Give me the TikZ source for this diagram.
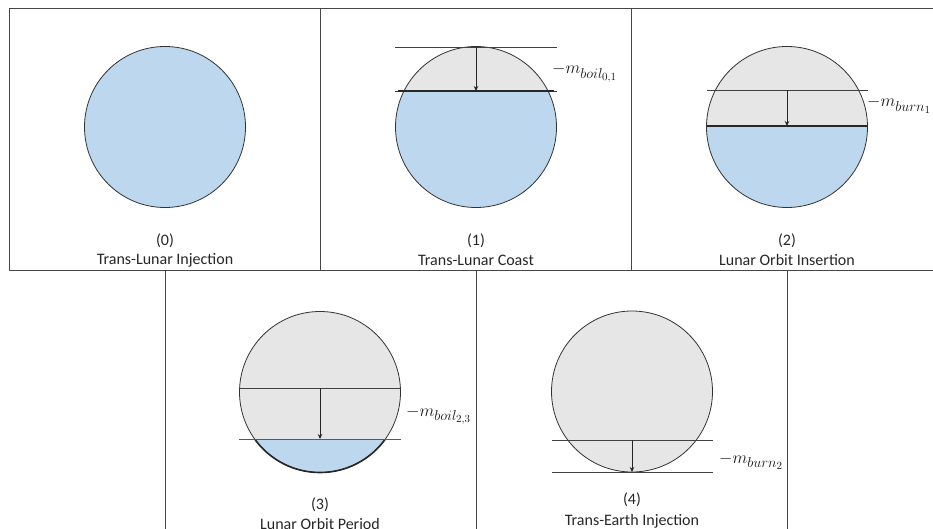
\documentclass[tikz,border=0pt]{standalone}
\usepackage{fontspec}
\setmainfont{Carlito}
\usetikzlibrary{arrows.meta}
\DeclareMathSizes{18}{18}{13.5}{10.5}
\definecolor{liquid}{RGB}{189,215,238}
\definecolor{vapour}{RGB}{231,230,230}
\definecolor{frame}{RGB}{70,70,70}
\tikzset{
  tank/.style={draw=black!80, line width=0.8pt},
  panelline/.style={draw=frame, line width=1pt},
  gauge/.style={draw=black!75, line width=0.8pt},
  level/.style={draw=black!85, line width=1.3pt},
  drop/.style={-{Stealth[length=5pt,width=4.5pt]}, line width=0.9pt, black!85},
  caption/.style={font=\fontsize{16}{19}\selectfont, text=black!85},
  mass/.style={font=\fontsize{18}{21}\selectfont, anchor=base west, inner sep=0pt, text=black!90}
}
\begin{document}
\begin{tikzpicture}[x=1pt, y=-1pt]
\useasboundingbox (0,0) rectangle (933,529);
\def\R{80.5}

% panel frames
\draw[panelline] (9,9) -- (933,9);
\draw[panelline] (9,9) -- (9,270);
\draw[panelline] (9,270) -- (933,270);
\draw[panelline] (320,9) -- (320,270);
\draw[panelline] (631,9) -- (631,270);
\draw[panelline] (165,270) -- (165,529);
\draw[panelline] (476,270) -- (476,529);
\draw[panelline] (787,270) -- (787,529);

% (0) full tank
\coordinate (c0) at (165,127);
\fill[liquid] (c0) circle (\R);
\draw[tank] (c0) circle (\R);
\node[caption] (n0) at (165,241) {(0)};
\node[caption] (t0) at (165,260) {Trans-Lunar Injection};

% (1) boil-off during coast
\coordinate (c1) at (476,127);
\fill[vapour] (c1) circle (\R);
\begin{scope}
  \clip (c1) circle (\R);
  \fill[liquid] (390,91) rectangle (560,215);
\end{scope}
\draw[tank] (c1) circle (\R);
\coordinate (a1) at (395,47);  \coordinate (b1) at (557,47);
\coordinate (a1l) at (395,91); \coordinate (b1l) at (557,91);
\draw[gauge] (a1) -- (b1);
\draw[gauge] (a1l) -- (b1l);
\draw[level] (476,91) ++(-78.3,0) -- ++(156.6,0);
\coordinate (s1) at (476,47); \coordinate (e1) at (476,91);
\draw[drop] (s1) -- (e1);
\node[mass] (m1) at (552,74) {$-m_{boil_{0,1}}$};
\node[caption] (n1) at (476,241) {(1)};
\node[caption] (t1) at (476,260) {Trans-Lunar Coast};

% (2) lunar orbit insertion burn
\coordinate (c2) at (787,127);
\fill[vapour] (c2) circle (\R);
\begin{scope}
  \clip (c2) circle (\R);
  \fill[liquid] (700,126) rectangle (875,215);
\end{scope}
\draw[tank] (c2) circle (\R);
\coordinate (a2) at (707,90);  \coordinate (b2) at (868,90);
\coordinate (a2l) at (707,126); \coordinate (b2l) at (868,126);
\draw[gauge] (a2) -- (b2);
\draw[level] (a2l) -- (b2l);
\coordinate (s2) at (787,90); \coordinate (e2) at (787,126);
\draw[drop] (s2) -- (e2);
\node[mass] (m2) at (867,107) {$-m_{burn_1}$};
\node[caption] (n2) at (787,241) {(2)};
\node[caption] (t2) at (787,260) {Lunar Orbit Insertion};

% (3) boil-off in lunar orbit
\coordinate (c3) at (320,392);
\fill[vapour] (c3) circle (\R);
\begin{scope}
  \clip (c3) circle (\R);
  \fill[liquid] (235,439) rectangle (405,480);
\end{scope}
\draw[tank] (c3) circle (\R);
\begin{scope}
  \clip (230,439) rectangle (410,480);
  \draw[black!85, line width=1.6pt] (c3) circle (\R);
\end{scope}
\coordinate (a3) at (239,388);  \coordinate (b3) at (401,388);
\coordinate (a3l) at (239,439); \coordinate (b3l) at (401,439);
\draw[gauge] (a3) -- (b3);
\draw[gauge, draw=black!65] (a3l) -- (b3l);
\coordinate (s3) at (320,388); \coordinate (e3) at (320,439);
\draw[drop] (s3) -- (e3);
\node[mass] (m3) at (406,416) {$-m_{boil_{2,3}}$};
\node[caption] (n3) at (320,505) {(3)};
\node[caption] (t3) at (320,524) {Lunar Orbit Period};

% (4) trans-earth injection burn
\coordinate (c4) at (632,391.5);
\fill[vapour] (c4) circle (\R);
\draw[tank] (c4) circle (\R);
\coordinate (a4) at (552,440);  \coordinate (b4) at (713,440);
\coordinate (a4l) at (552,472); \coordinate (b4l) at (713,472);
\draw[gauge] (a4) -- (b4);
\draw[gauge] (a4l) -- (b4l);
\coordinate (s4) at (632,440); \coordinate (e4) at (632,472);
\draw[drop] (s4) -- (e4);
\node[mass] (m4) at (719,463) {$-m_{burn_2}$};
\node[caption] (n4) at (632,500) {(4)};
\node[caption] (t4) at (632,521) {Trans-Earth Injection};
\end{tikzpicture}
\end{document}
